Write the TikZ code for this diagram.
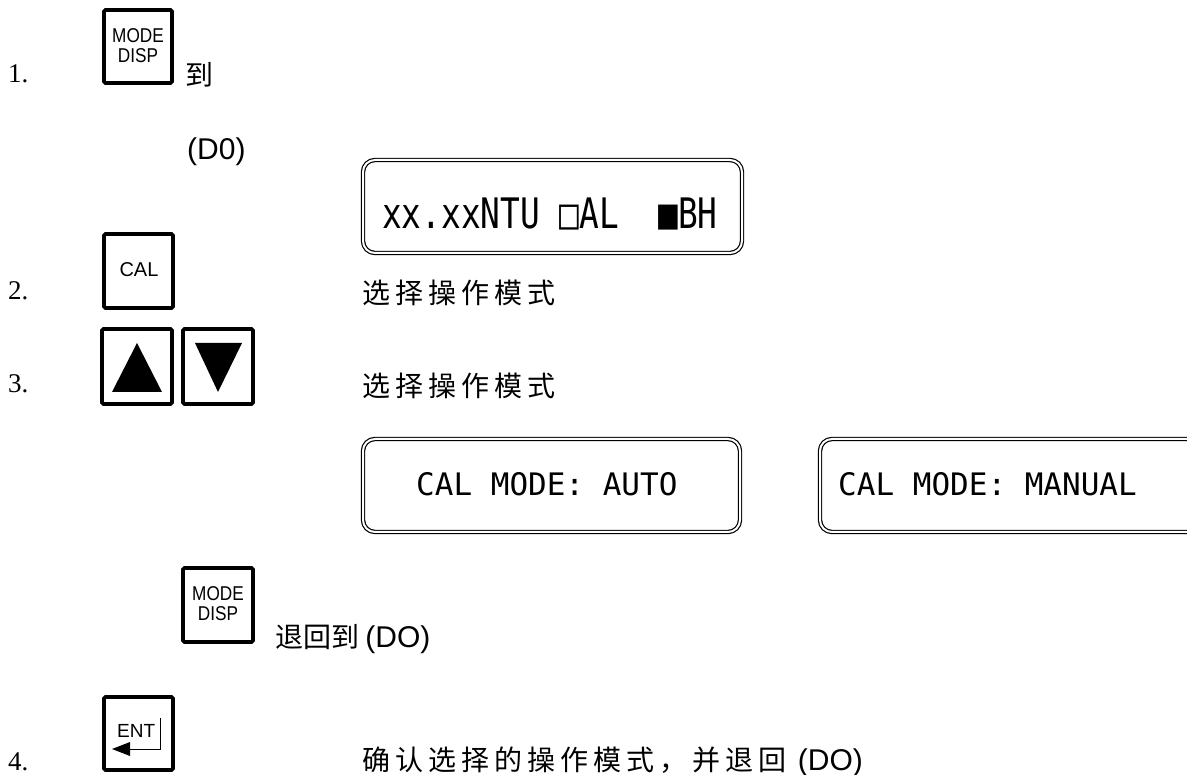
\documentclass[tikz,border=0pt]{standalone}
\usepackage{fontspec}
\setmainfont{Liberation Serif}
\setsansfont{Liberation Sans}
\setmonofont{DejaVu Sans Mono}
\newfontfamily\cjk{Noto Sans CJK SC}
\newfontfamily\cjkwide{Noto Sans CJK SC}[LetterSpace=18]
\begin{document}
\begin{tikzpicture}[x=1pt,y=-1pt,
  keybox/.style={draw=black,line width=3.8pt,rounded corners=1.5pt,fill=white},
  lcdbox/.style={draw=black,line width=1.2pt,double=white,double distance=2pt,rounded corners=12pt},
  numlab/.style={anchor=base west,inner sep=0pt,font=\fontsize{27}{29}\selectfont\rmfamily},
  keytext/.style={inner sep=0pt,align=center,font=\fontsize{20}{22}\selectfont\sffamily},
  cjktext/.style={anchor=base west,inner sep=0pt,font=\fontsize{28}{30}\selectfont\cjk},
  cjkspaced/.style={anchor=base west,inner sep=0pt,font=\fontsize{28}{30}\selectfont\cjkwide},
  sanstext/.style={anchor=base west,inner sep=0pt,font=\fontsize{30}{32}\selectfont\sffamily},
  lcdtext/.style={anchor=base west,inner sep=0pt,font=\fontsize{31}{33}\selectfont\ttfamily},
  tri/.style={fill=black,draw=none}]
\useasboundingbox (0,0) rectangle (1187,775);
\fill[white] (0,0) rectangle (1187,775);

% Step 1
\node[numlab] (n1) at (8,83) {1.};
\draw[keybox] (104,10) rectangle (172,83);
\node[keytext] (k1) at (138,46) {\scalebox{0.86}[1]{MODE}\\[-2pt]\scalebox{0.86}[1]{DISP}};
\node[cjktext] (t1) at (185,86) {到};
\node[sanstext] (d0) at (187,160) {(D0)};

% LCD 1
\draw[lcdbox] (363,160) rectangle (742,253);
\node[anchor=base west,inner sep=0pt,font=\fontsize{42}{44}\selectfont\ttfamily] (lcd1) at (382,229)
  {\scalebox{0.78}[1]{xx.xxNTU~□AL~~■BH}};

% Step 2
\node[numlab] (n2) at (8,300) {2.};
\draw[keybox] (104,234) rectangle (173,308);
\node[keytext] (k2) at (139,270) {CAL};
\node[cjkspaced] (t2) at (362,304) {选择操作模式};

% Step 3
\node[numlab] (n3) at (8,393) {3.};
\draw[keybox] (102,329) rectangle (172,404);
\fill[tri] (137,343) -- (162,392) -- (112,392) -- cycle;
\draw[keybox] (183,329) rectangle (253,404);
\fill[tri] (195,343) -- (242,343) -- (218,392) -- cycle;
\node[cjkspaced] (t3) at (362,397) {选择操作模式};

% LCD 2 and 3
\draw[lcdbox] (363,439) rectangle (740,532);
\node[lcdtext] (lcd2) at (416,496) {CAL MODE: AUTO};
\draw[lcdbox] (820,439) rectangle (1199,532);
\node[lcdtext] (lcd3) at (838,496) {CAL MODE: MANUAL};

% MODE DISP back
\draw[keybox] (183,568) rectangle (253,642);
\node[keytext] (k3) at (218,604) {\scalebox{0.86}[1]{MODE}\\[-2pt]\scalebox{0.86}[1]{DISP}};
\node[cjktext] (t4) at (275,647) {退回到 {\sffamily\fontsize{30}{32}\selectfont(DO)}};

% Step 4
\node[numlab] (n4) at (8,770) {4.};
\draw[keybox] (104,697) rectangle (173,770);
\node[inner sep=0pt,anchor=base west,font=\fontsize{19}{20}\selectfont\sffamily] (k4) at (117,737) {ENT};
\draw[line width=0.8pt] (160,718) -- (160,749) -- (128,749);
\fill (112,749) -- (130,742) -- (130,756) -- cycle;
\node[cjkspaced] (t5) at (362,770) {确认选择的操作模式，并退回 {\sffamily\fontsize{30}{32}\selectfont(DO)}};
\end{tikzpicture}
\end{document}
